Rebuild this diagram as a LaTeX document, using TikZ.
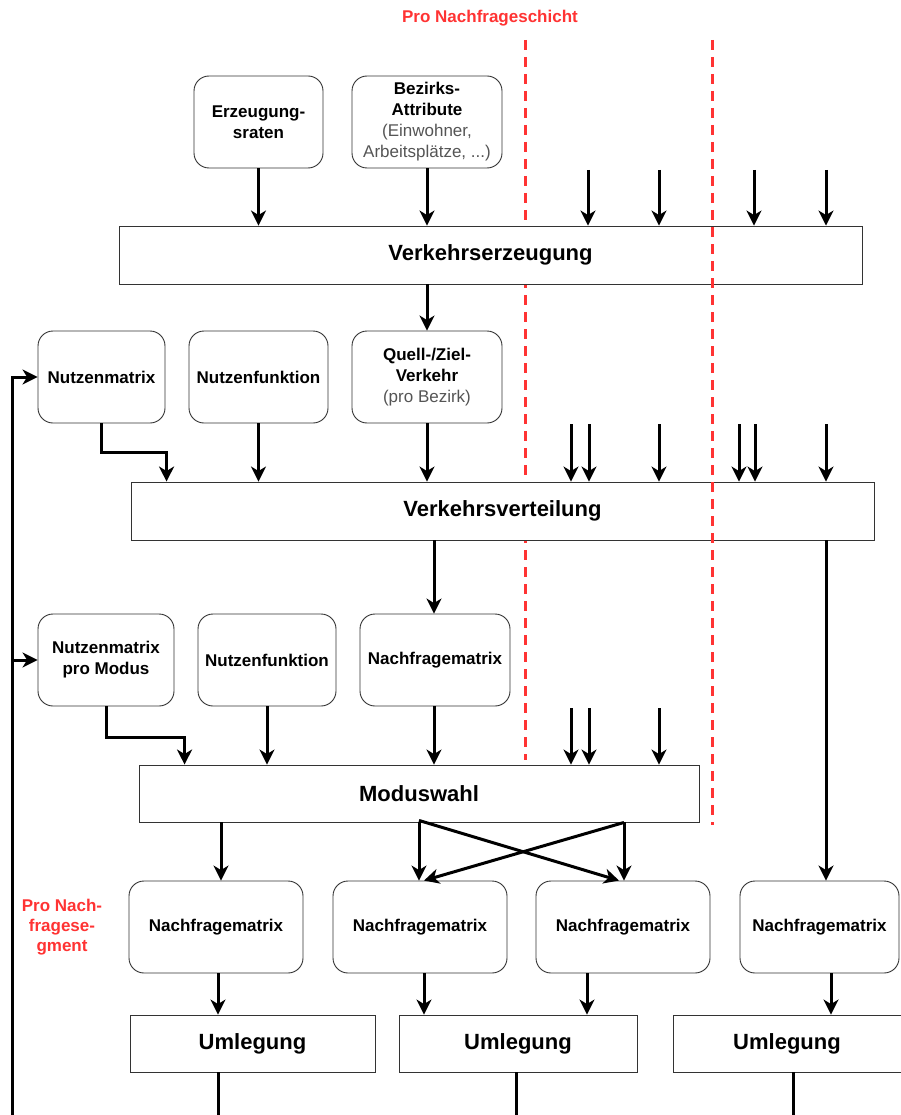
\documentclass[tikz,border=0pt]{standalone}
\usepackage{fontspec}
\setmainfont{Liberation Sans}
\usetikzlibrary{arrows.meta,calc}
\definecolor{boxline}{HTML}{333333}
\definecolor{note}{HTML}{FF3333}
\definecolor{subtext}{HTML}{555555}

\begin{document}
\begin{tikzpicture}[x=1pt,y=-1pt,
  infobox/.style={draw=boxline, line width=0.9pt, rounded corners=15pt, fill=white,
    align=center, inner sep=2pt, font=\fontsize{17}{21}\selectfont\bfseries},
  stagebox/.style={draw=boxline, line width=0.9pt, fill=white, inner sep=2pt,
    font=\fontsize{22}{26}\selectfont\bfseries},
  flow/.style={line width=3pt, -{Stealth[length=15pt,width=15pt,inset=4.5pt]}},
  plainline/.style={line width=3pt},
  layer/.style={draw=note, line width=3pt, dash pattern=on 10pt off 7pt},
  tag/.style={text=note, font=\fontsize{17}{20}\selectfont\bfseries, align=center}
]
\useasboundingbox (0,0) rectangle (900,1115);

% left layer separator (lies behind the boxes)
\coordinate (la) at (525,40);
\coordinate (lb) at (525,760);
\draw[layer] (la) -- (lb);

% ---------------- trip generation ----------------
\node[infobox, minimum width=129pt, minimum height=92pt] (erz) at (258.5,122) {Erzeugung-\\sraten};
\node[infobox, minimum width=150pt, minimum height=92pt] (bez) at (427,122)
  {Bezirks-\\Attribute\\{\color{subtext}\mdseries(Einwohner,}\\{\color{subtext}\mdseries Arbeitsplätze, ...)}};
\node[stagebox, minimum width=743pt, minimum height=58pt] (verz) at (490.5,255) {Verkehrserzeugung};

% ---------------- trip distribution ----------------
\node[infobox, minimum width=127pt, minimum height=92pt] (nm1) at (101.5,377) {Nutzenmatrix};
\node[infobox, minimum width=139pt, minimum height=92pt] (nf1) at (258.5,377) {Nutzenfunktion};
\node[infobox, minimum width=150pt, minimum height=92pt] (qz) at (427,377)
  {Quell-/Ziel-\\Verkehr\\{\color{subtext}\mdseries(pro Bezirk)}};
\node[stagebox, minimum width=743pt, minimum height=58pt] (vv) at (502.5,511) {Verkehrsverteilung};

% ---------------- mode choice ----------------
\node[infobox, minimum width=136pt, minimum height=92pt] (nm2) at (106,660) {Nutzenmatrix\\pro Modus};
\node[infobox, minimum width=138pt, minimum height=92pt] (nf2) at (267,660) {Nutzenfunktion};
\node[infobox, minimum width=150pt, minimum height=92pt] (nq) at (435,660) {Nachfragematrix};
\node[stagebox, minimum width=560pt, minimum height=57pt] (mw) at (419,793.5) {Moduswahl};

% ---------------- demand matrices per segment ----------------
\node[infobox, minimum width=174pt, minimum height=92pt] (d1) at (216,927) {Nachfragematrix};
\node[infobox, minimum width=174pt, minimum height=92pt] (d2) at (420,927) {Nachfragematrix};
\node[infobox, minimum width=174pt, minimum height=92pt] (d3) at (623,927) {Nachfragematrix};
\node[infobox, minimum width=159pt, minimum height=92pt] (d4) at (819.5,927) {Nachfragematrix};

% ---------------- assignment ----------------
\node[stagebox, minimum width=245pt, minimum height=57pt] (u1) at (252.5,1043.5) {Umlegung};
\node[stagebox, minimum width=238pt, minimum height=57pt] (u2) at (518,1043.5) {Umlegung};
\node[stagebox, minimum width=228pt, minimum height=57pt] (u3) at (787,1043.5) {Umlegung};

% labels
\node[tag] (lschicht) at (490,18) {Pro Nachfrageschicht};
\node[tag] (lsegment) at (62,927) {Pro Nach-\\fragese-\\gment};

% inputs to trip generation
\draw[flow] (erz.south) -- (erz.south |- verz.north);
\draw[flow] (bez.south) -- (bez.south |- verz.north);
\foreach \i/\x in {a/588, b/659, c/754, d/826} {
  \coordinate (g\i) at (\x,170);
  \draw[flow] (g\i) -- (g\i |- verz.north);
}
\draw[flow] (verz.south -| qz.north) -- (qz.north);

% inputs to trip distribution
\draw[flow] (nm1.south) -- ++(0,29) -| ([xshift=36pt]vv.north west);
\draw[flow] (nf1.south) -- (nf1.south |- vv.north);
\draw[flow] (qz.south) -- (qz.south |- vv.north);
\foreach \i/\x in {a/571, b/589, c/659, d/739, e/755, f/826} {
  \coordinate (t\i) at (\x,424);
  \draw[flow] (t\i) -- (t\i |- vv.north);
}
\coordinate (vq) at (434,0);
\draw[flow] (vv.south -| vq) -- (nq.north -| vq);
\coordinate (vr) at (826,540);
\draw[flow] (vv.south -| vr) -- (d4.north -| vr);

% inputs to mode choice
\draw[flow] (nm2.south) -- ++(0,31) -| ([xshift=46pt]mw.north west);
\draw[flow] (nf2.south) -- (nf2.south |- mw.north);
\draw[flow] (nq.south -| vq) -- (mw.north -| vq);
\foreach \i/\x in {a/571, b/589, c/659} {
  \coordinate (m\i) at (\x,708);
  \draw[flow] (m\i) -- (m\i |- mw.north);
}

% mode choice outputs
\coordinate (o1) at (221,0);
\coordinate (o2) at (419,0);
\coordinate (o3) at (624,0);
\draw[flow] (mw.south -| o1) -- (d1.north -| o1);
\draw[flow] (mw.south -| o2) -- (d2.north -| o2);
\draw[flow] (mw.south -| o3) -- (d3.north -| o3);
\draw[flow] ([yshift=2pt]mw.south -| o2) -- ([xshift=-5pt]d3.north -| o3);
\draw[flow] (mw.south -| o3) -- ([xshift=5pt]d2.north -| o2);

% matrices to assignment
\coordinate (s1) at (218,0);
\coordinate (s2) at (424,0);
\coordinate (s3) at (587,0);
\coordinate (s4) at (831,0);
\draw[flow] (d1.south -| s1) -- (u1.north -| s1);
\draw[flow] (d2.south -| s2) -- (u2.north -| s2);
\draw[flow] (d3.south -| s3) -- (u2.north -| s3);
\draw[flow] (d4.south -| s4) -- (u3.north -| s4);

% assignment results leaving downwards
\coordinate (e1) at (218,1115);
\coordinate (e2) at (516,1115);
\coordinate (e3) at (793,1115);
\draw[plainline] (u1.south -| e1) -- (e1);
\draw[plainline] (u2.south -| e2) -- (e2);
\draw[plainline] (u3.south -| e3) -- (e3);

% feedback of skims
\coordinate (fb) at (12,1115);
\draw[flow] (fb) |- (nm1.west);
\draw[flow] (fb |- nm2.west) -- (nm2.west);

% right layer separator (drawn over the boxes)
\coordinate (ra) at (712,40);
\coordinate (rb) at (712,825);
\draw[layer] (ra) -- (rb);
\end{tikzpicture}
\end{document}
